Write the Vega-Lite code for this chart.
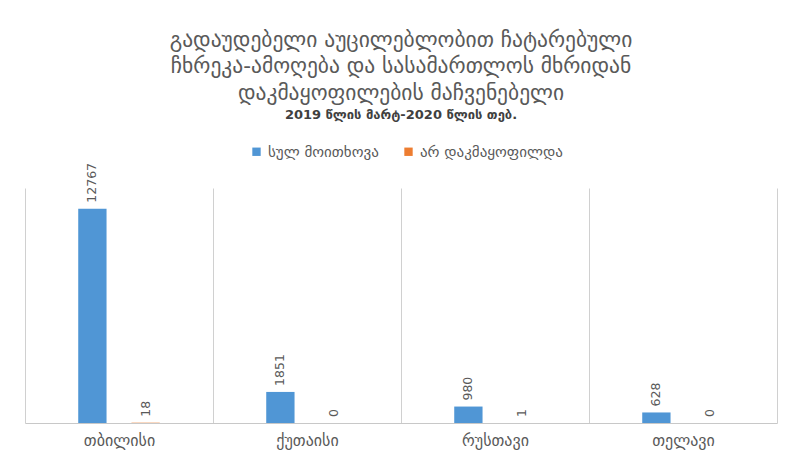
{
  "$schema": "https://vega.github.io/schema/vega-lite/v6.json",
  "width": 752,
  "height": 235,
  "autosize": "none",
  "padding": {"left": 25, "top": 188, "right": 14, "bottom": 39},
  "background": "white",
  "title": {
    "text": ["გადაუდებელი აუცილებლობით ჩატარებული", "ჩხრეკა-ამოღება და სასამართლოს მხრიდან", "დაკმაყოფილების მაჩვენებელი"],
    "subtitle": "2019 წლის მარტ-2020 წლის თებ.",
    "font": "DejaVu Sans",
    "fontSize": 21.5,
    "fontWeight": "normal",
    "color": "#595959",
    "lineHeight": 26.5,
    "subtitleFont": "DejaVu Sans",
    "subtitleFontSize": 13,
    "subtitleFontWeight": "bold",
    "subtitleColor": "#404040",
    "subtitlePadding": 5,
    "anchor": "middle",
    "offset": 22
  },
  "data": {
    "values": [
      {"city": "თბილისი", "series": "სულ მოითხოვა", "value": 12767},
      {"city": "თბილისი", "series": "არ დაკმაყოფილდა", "value": 18},
      {"city": "ქუთაისი", "series": "სულ მოითხოვა", "value": 1851},
      {"city": "ქუთაისი", "series": "არ დაკმაყოფილდა", "value": 0},
      {"city": "რუსთავი", "series": "სულ მოითხოვა", "value": 980},
      {"city": "რუსთავი", "series": "არ დაკმაყოფილდა", "value": 1},
      {"city": "თელავი", "series": "სულ მოითხოვა", "value": 628},
      {"city": "თელავი", "series": "არ დაკმაყოფილდა", "value": 0}
    ]
  },
  "encoding": {
    "x": {
      "field": "city",
      "type": "nominal",
      "sort": null,
      "scale": {"paddingInner": 0, "paddingOuter": 0},
      "axis": {
        "title": null,
        "tickBand": "extent",
        "grid": true,
        "gridColor": "#D0D0D0",
        "gridWidth": 1,
        "ticks": false,
        "domainColor": "#C8C8C8",
        "domainWidth": 1,
        "labelAngle": 0,
        "labelFont": "DejaVu Sans",
        "labelFontSize": 16,
        "labelColor": "#595959",
        "labelPadding": 9
      }
    },
    "xOffset": {
      "field": "series",
      "type": "nominal",
      "sort": ["სულ მოითხოვა", "არ დაკმაყოფილდა"],
      "scale": {"paddingInner": 0.468, "paddingOuter": 1.234}
    },
    "y": {
      "field": "value",
      "type": "quantitative",
      "scale": {"domain": [0, 14000]},
      "axis": null
    }
  },
  "layer": [
    {
      "mark": {"type": "bar"},
      "encoding": {
        "color": {
          "field": "series",
          "type": "nominal",
          "sort": ["სულ მოითხოვა", "არ დაკმაყოფილდა"],
          "scale": {"domain": ["სულ მოითხოვა", "არ დაკმაყოფილდა"], "range": ["#5096D5", "#ED7D31"]},
          "legend": {
            "title": null,
            "orient": "none",
            "direction": "horizontal",
            "legendX": 224,
            "legendY": -44,
            "symbolType": "square",
            "symbolSize": 70,
            "symbolStrokeWidth": 0,
            "labelFont": "DejaVu Sans",
            "labelFontSize": 15,
            "labelColor": "#595959",
            "columnPadding": 22,
            "labelOffset": 4
          }
        }
      }
    },
    {
      "mark": {
        "type": "text",
        "angle": 270,
        "align": "left",
        "baseline": "middle",
        "dx": 6,
        "font": "DejaVu Sans",
        "fontSize": 12.5,
        "color": "#595959"
      },
      "encoding": {
        "text": {"field": "value", "type": "quantitative", "format": "d"}
      }
    }
  ],
  "config": {"view": {"stroke": null}}
}
